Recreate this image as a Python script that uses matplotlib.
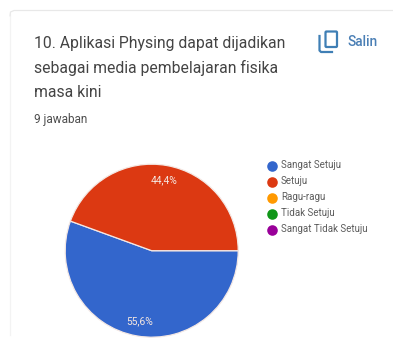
import matplotlib
matplotlib.use("Agg")
import matplotlib.pyplot as plt
import matplotlib.patches as mpatches

W, H = 393, 339

TITLE_LINES = ["10. Aplikasi Physing dapat dijadikan",
               "sebagai media pembelajaran fisika",
               "masa kini"]
RESPONSES = "9 jawaban"
COPY_LABEL = "Salin"
CATEGORIES = ["Sangat Setuju", "Setuju", "Ragu-ragu", "Tidak Setuju", "Sangat Tidak Setuju"]
COUNTS = [5, 4, 0, 0, 0]
COLORS = ["#3366cc", "#dc3912", "#ff9900", "#109618", "#990099"]

plt.rcParams["font.family"] = ["Roboto", "DejaVu Sans"]

fig = plt.figure(figsize=(W / 100, H / 100), dpi=100, facecolor="white")

# Page layer in pixel coordinates
bg = fig.add_axes([0, 0, 1, 1])
bg.set_xlim(0, W)
bg.set_ylim(H, 0)
bg.axis("off")

# Card edge: soft on the left, a little stronger along the top
bg.plot([10, 10], [14, 335], color="#f3f3f3", lw=0.9)
bg.plot([W, 14, 10.5, 10], [10.5, 10.5, 12, 16], color="#e8e8e8", lw=0.9, solid_capstyle="round")

for i, line in enumerate(TITLE_LINES):
    bg.text(33.5, 43.5 + i * 24.5, line, fontsize=11.3, color="#444444", va="center", ha="left")
bg.text(33.5, 119, RESPONSES, fontsize=8.5, color="#4d4d4d", va="center", ha="left")

# Copy icon
icon = "#3f7fb5"
bg.add_patch(mpatches.FancyBboxPatch((325.5, 31.5), 11.5, 15.5, boxstyle="round,pad=0,rounding_size=1",
                                     fill=False, ec=icon, lw=1.6))
bg.plot([319.5, 319.5, 321, 332], [36, 50.5, 52, 52], color=icon, lw=1.6)
bg.text(348, 41.5, COPY_LABEL, fontsize=9.8, color="#4a7fb5", va="center", ha="left", fontweight="medium")

# Pie, clockwise from three o'clock
cx, cy, r = 151.7, 250.7, 86.5
ax = fig.add_axes([(cx - r) / W, 1 - (cy + r) / H, 2 * r / W, 2 * r / H])
wedges, _, autotexts = ax.pie(
    COUNTS[:2], colors=COLORS[:2], startangle=0, counterclock=False, radius=1,
    autopct=lambda p: f"{p:.1f}%".replace(".", ","), pctdistance=0.83,
    wedgeprops={"edgecolor": "#f4e8e4", "linewidth": 0.9},
    textprops={"fontsize": 7.4, "color": "#f5e6e0"},
)
ax.set_xlim(-1, 1)
ax.set_ylim(-1, 1)

# Legend
for i, (name, color) in enumerate(zip(CATEGORIES, COLORS)):
    y = 165.7 + i * 16
    bg.scatter([272], [y], s=58, color=color, linewidths=0)
    bg.text(281, y - 0.5, name, fontsize=7.0, color="#5c5c5c", va="center", ha="left")

fig.savefig("out.png", dpi=100)
plt.close(fig)
